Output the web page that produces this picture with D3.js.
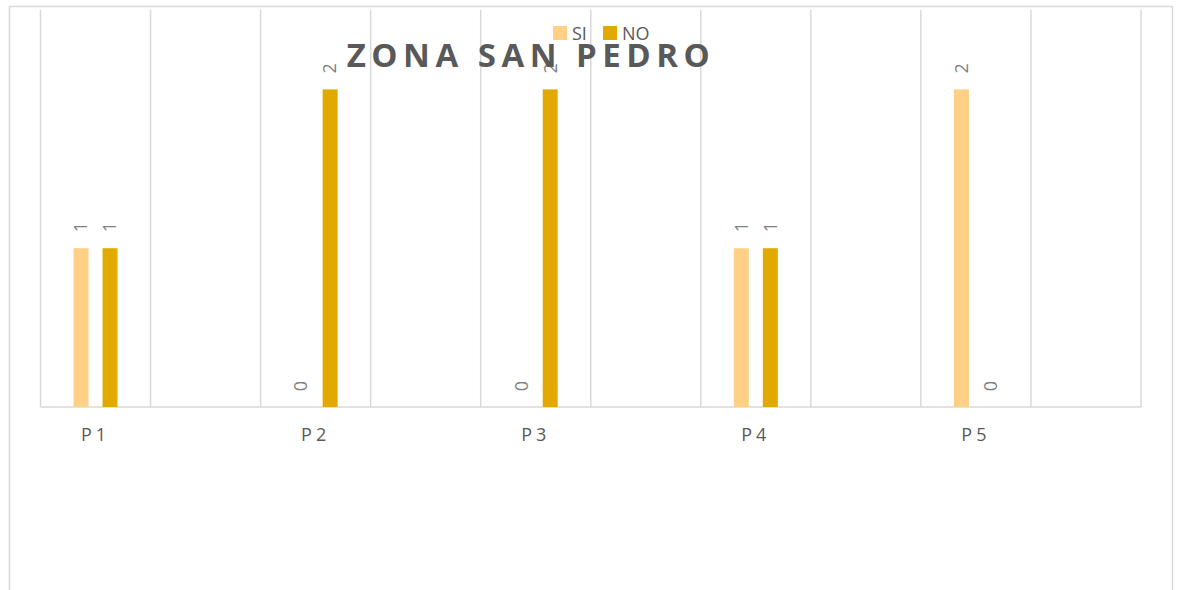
<!DOCTYPE html>
<html>
<head>
<meta charset="utf-8">
<script src="https://cdn.jsdelivr.net/npm/d3@7.9.0/dist/d3.min.js"></script>
<style>
  body { margin: 0; background: #fff; }
  svg text { font-family: "Open Sans", "Noto Sans", sans-serif; }
</style>
</head>
<body>
<svg id="chart" width="1178" height="590"></svg>
<script>
// chart data
const categories = ['P1', 'P2', 'P3', 'P4', 'P5'];
const seriesNames = ['SI', 'NO'];
const siValues = [1, 0, 0, 1, 2];
const noValues = [1, 2, 2, 1, 0];
const yTicks = [0, 0.5, 1, 1.5, 2, 2.5];

const colors = { SI: '#ffd085', NO: '#e2aa00' };
const plot = { left: 40.5, right: 1141, top: 10, bottom: 407 };

const svg = d3.select('#chart');

// outer chart frame (bottom edge is cut off by the window)
svg.append('rect')
  .attr('x', 9.5).attr('y', 6.5)
  .attr('width', 1163).attr('height', 620)
  .attr('fill', 'none')
  .attr('stroke', '#d9d9d9')
  .attr('stroke-width', 1.5);

// each category is followed by an empty slot, like the source sheet
const slots = [];
categories.forEach((c, i) => { slots.push(c); slots.push('_' + i); });

const x = d3.scaleBand()
  .domain(slots)
  .range([plot.left, plot.right]);

const x1 = d3.scaleBand()
  .domain(seriesNames)
  .range([0, x.bandwidth()])
  .paddingInner(0.483)
  .paddingOuter(1.138);

const y = d3.scaleLinear()
  .domain([0, d3.max(yTicks)])
  .range([plot.bottom, plot.top]);

// vertical gridlines between slots
const gridX = slots.map(s => x(s)).concat([plot.right]);
svg.append('g')
  .selectAll('line')
  .data(gridX)
  .join('line')
  .attr('x1', d => d).attr('x2', d => d)
  .attr('y1', plot.top).attr('y2', plot.bottom)
  .attr('stroke', '#d9d9d9')
  .attr('stroke-width', 1.5);

// category axis line
svg.append('line')
  .attr('x1', plot.left).attr('x2', plot.right)
  .attr('y1', plot.bottom).attr('y2', plot.bottom)
  .attr('stroke', '#d9d9d9')
  .attr('stroke-width', 1.5);

const rows = categories.map((c, i) => ({ cat: c, SI: siValues[i], NO: noValues[i] }));

const groups = svg.append('g')
  .selectAll('g')
  .data(rows)
  .join('g')
  .attr('transform', d => `translate(${x(d.cat)},0)`);

groups.selectAll('rect')
  .data(d => seriesNames.map(k => ({ key: k, value: d[k] })))
  .join('rect')
  .attr('x', d => x1(d.key))
  .attr('width', x1.bandwidth())
  .attr('y', d => y(d.value))
  .attr('height', d => y(0) - y(d.value))
  .attr('fill', d => colors[d.key]);

// rotated value labels
groups.selectAll('text')
  .data(d => seriesNames.map(k => ({ key: k, value: d[k] })))
  .join('text')
  .attr('transform', d => `translate(${x1(d.key) + x1.bandwidth() / 2},${y(d.value) - 21}) rotate(-90)`)
  .attr('text-anchor', 'middle')
  .attr('dy', '0.35em')
  .attr('font-size', 18)
  .attr('fill', '#7f7f7f')
  .text(d => d.value);

// category labels
svg.append('g')
  .selectAll('text')
  .data(categories)
  .join('text')
  .attr('x', d => x(d) + x.bandwidth() / 2)
  .attr('y', 441)
  .attr('text-anchor', 'middle')
  .attr('font-size', 18)
  .attr('letter-spacing', 4)
  .attr('fill', '#595959')
  .text(d => d);

// title
svg.append('text')
  .attr('x', 531)
  .attr('y', 67)
  .attr('text-anchor', 'middle')
  .attr('font-size', 33)
  .attr('font-weight', 'bold')
  .attr('letter-spacing', 5.5)
  .attr('fill', '#595959')
  .text('ZONA SAN PEDRO');

// legend
const legend = svg.append('g')
  .selectAll('g')
  .data(seriesNames)
  .join('g')
  .attr('transform', (d, i) => `translate(${553 + i * 50},26)`);

legend.append('rect')
  .attr('width', 14).attr('height', 14)
  .attr('fill', d => colors[d]);

legend.append('text')
  .attr('x', 19).attr('y', 14)
  .attr('font-size', 18)
  .attr('fill', '#595959')
  .text(d => d);
</script>
</body>
</html>
